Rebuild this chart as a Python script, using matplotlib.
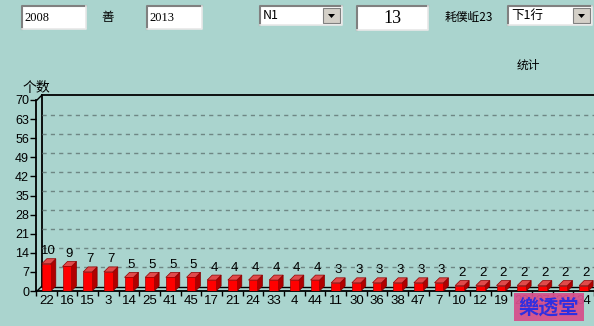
import matplotlib
matplotlib.use("Agg")
import matplotlib.pyplot as plt
from matplotlib.patches import Rectangle, Polygon

# chart data
categories = ["22", "16", "15", "3", "14", "25", "41", "45", "17", "21", "24", "33", "4",
              "44", "11", "30", "36", "38", "47", "7", "10", "12", "19", "20", "27", "29", "34"]
counts = [10, 9, 7, 7, 5, 5, 5, 5, 4, 4, 4, 4, 4, 4, 3, 3, 3, 3, 3, 3, 2, 2, 2, 2, 2, 2, 2]
y_ticks = [0, 7, 14, 21, 28, 35, 42, 49, 56, 63, 70]

CJK = ["Noto Sans CJK SC", "DejaVu Sans"]
BG = "#AAD4CE"

W, H = 594, 326
fig = plt.figure(figsize=(W / 100, H / 100), dpi=100, facecolor=BG)

# front plane of the chart, in pixels
ax_l, ax_r, ax_t, ax_b = 36, 594, 100, 291
ax = fig.add_axes([ax_l / W, 1 - ax_b / H, (ax_r - ax_l) / W, (ax_b - ax_t) / H])
ax.set_facecolor("none")
n = len(categories)
x0, x1 = -0.45, n - 0.55
ax.set_xlim(x0, x1)
ax.set_ylim(0, 70)
ux = (x1 - x0) / (ax_r - ax_l)   # data units per pixel
uy = 70 / (ax_b - ax_t)

for s in ["top", "right"]:
    ax.spines[s].set_visible(False)
for s in ["left", "bottom"]:
    ax.spines[s].set_linewidth(1.3)

ax.set_yticks(y_ticks)
ax.set_yticklabels([str(t) for t in y_ticks], fontsize=9, family="Liberation Sans")
ax.tick_params(axis="y", direction="out", length=4, width=1, pad=1)
ax.set_xticks(range(n))
ax.set_xticklabels(categories, fontsize=9.5, family="Liberation Sans")
ax.set_xticks([i + 0.5 for i in range(-1, n)], minor=True)
ax.tick_params(axis="x", which="major", length=0, pad=3)
ax.tick_params(axis="x", which="minor", direction="out", length=3.5, width=1)

# back wall, offset up-right
wd = 4.5
bx, by = wd * ux, wd * uy
ax.plot([x0 + bx, x1 + 1], [70 + by, 70 + by], color="black", lw=1.3, clip_on=False)
ax.plot([x0 + bx, x0 + bx], [by, 70 + by], color="black", lw=1.3, clip_on=False)
ax.plot([x0, x0 + bx], [70, 70 + by], color="black", lw=1, clip_on=False)
ax.plot([x0, x0 + bx], [0, by], color="black", lw=1, clip_on=False)
ax.plot([x0 + bx, x1 + 1], [by, by], color="black", lw=1, clip_on=False)
for t in y_ticks[1:-1]:
    ax.plot([x0 + bx, x1 + 1], [t + by, t + by], color="#6E8784", lw=1,
            ls=(0, (3, 3)), clip_on=False)

# 3D bars
bw = 9 * ux
dx, dy = 5 * ux, 5 * uy
for i, v in enumerate(counts):
    xl, xr = i - bw / 2, i + bw / 2
    ax.add_patch(Polygon([(xr, 0), (xr, v), (xr + dx, v + dy), (xr + dx, dy)],
                         closed=True, facecolor="#B00000", edgecolor="#800000", lw=0.5, zorder=3))
    ax.add_patch(Polygon([(xl, v), (xr, v), (xr + dx, v + dy), (xl + dx, v + dy)],
                         closed=True, facecolor="#E04A4A", edgecolor="#900000", lw=0.5, zorder=3))
    ax.add_patch(Rectangle((xl, 0), bw, v, facecolor="#FF0000", edgecolor="#A00000",
                           lw=0.5, zorder=4))
    ax.text(i + dx / 2, v + dy + 1.5 * uy, str(v), ha="center", va="bottom",
            fontsize=9.5, family="Liberation Sans", zorder=5)

# overlay in pixel coordinates for the form widgets
ov = fig.add_axes([0, 0, 1, 1], zorder=10)
ov.set_xlim(0, W)
ov.set_ylim(H, 0)
ov.axis("off")
ov.patch.set_alpha(0)


def sunken_box(x, y, w, h):
    ov.add_patch(Rectangle((x, y), w, h, facecolor="white", edgecolor="none"))
    ov.plot([x, x, x + w], [y + h, y, y], color="#808080", lw=1.5)
    ov.plot([x, x + w, x + w], [y + h, y + h, y], color="#E8E8E8", lw=1.2)


def combo(x, y, w, h, label):
    sunken_box(x, y, w, h)
    b = 17
    ov.add_patch(Rectangle((x + w - b - 2, y + 2), b, h - 4, facecolor="#D4D0C8",
                           edgecolor="#808080", lw=0.8))
    cx, cy = x + w - b / 2 - 2, y + h / 2
    ov.add_patch(Polygon([(cx - 3.5, cy - 1.5), (cx + 3.5, cy - 1.5), (cx, cy + 2.5)],
                         closed=True, facecolor="black", edgecolor="none"))
    ov.text(x + 3, y + h / 2, label, ha="left", va="center", fontsize=9, family=CJK)


sunken_box(22, 6, 64, 23)
ov.text(24, 18, "2008", ha="left", va="center", fontsize=9, family="Liberation Serif")
ov.text(108, 17, "善", ha="center", va="center", fontsize=9, family=CJK)
sunken_box(147, 6, 55, 23)
ov.text(149, 18, "2013", ha="left", va="center", fontsize=9, family="Liberation Serif")
combo(260, 6, 82, 19, "N1")
sunken_box(357, 6, 71, 24)
ov.text(392, 18.5, "13", ha="center", va="center", fontsize=13, family="Liberation Serif")
ov.text(445, 17, "耗僕岴23", ha="left", va="center", fontsize=8.5, family=CJK)
combo(508, 6, 84, 19, "下1行")

ov.text(528, 65, "统计", ha="center", va="center", fontsize=8.5, family=CJK)
ov.text(36, 88, "个数", ha="center", va="center", fontsize=10, family=CJK)

# watermark
ov.add_patch(Rectangle((514, 293), 70, 28, facecolor="#D6508C", edgecolor="none", alpha=0.95))
ov.text(549, 307, "樂透堂", ha="center", va="center", fontsize=14.5, color="#2F2FE0",
        family=CJK, weight="bold")

fig.savefig("out.png", dpi=100, facecolor=BG)
